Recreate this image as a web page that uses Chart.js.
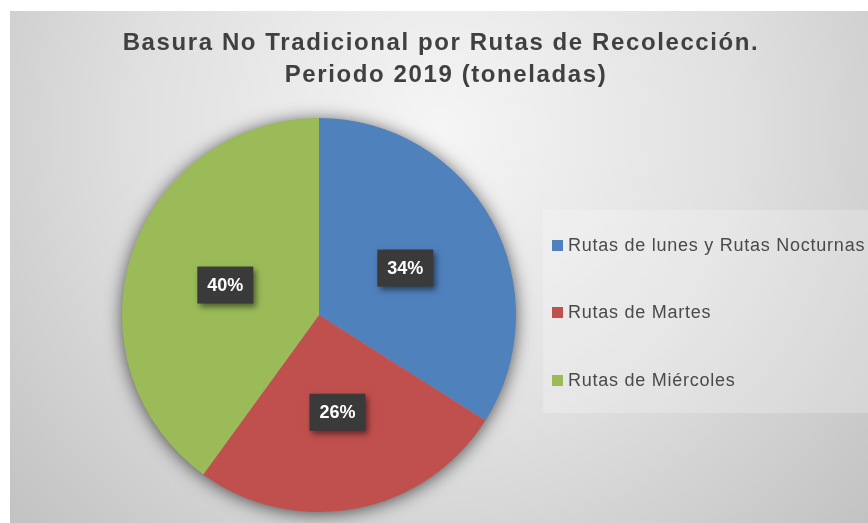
<!DOCTYPE html>
<html>
<head>
<meta charset="utf-8">
<script src="https://cdn.jsdelivr.net/npm/chart.js@4"></script>
<style>
  html, body { margin: 0; padding: 0; background: #fff; }
  canvas { display: block; }
</style>
</head>
<body>
<canvas id="chart" width="868" height="523"></canvas>
<script>
const titleLines = ['Basura No Tradicional por Rutas de Recolección.', 'Periodo 2019 (toneladas)']
const labels = ['Rutas de lunes y Rutas Nocturnas', 'Rutas de Martes', 'Rutas de Miércoles']
const values = [34, 26, 40]
const colors = ['#4F81BD', '#C0504D', '#9BBB59']

// fondo con degradado radial, como el de Excel
const background = {
  id: 'background',
  beforeDraw(chart) {
    const c = chart.ctx
    c.save()
    c.fillStyle = '#ffffff'
    c.fillRect(0, 0, chart.width, chart.height)
    const g = c.createRadialGradient(440, 130, 0, 440, 130, 600)
    g.addColorStop(0, '#f5f5f5')
    g.addColorStop(0.5, '#e0e0e0')
    g.addColorStop(1, '#c0c0c0')
    c.fillStyle = g
    c.fillRect(10, 11, chart.width - 10, chart.height - 11)
    c.restore()
  },
}

const pieShadow = {
  id: 'pieShadow',
  beforeDatasetsDraw(chart) {
    const arc = chart.getDatasetMeta(0).data[0]
    const c = chart.ctx
    c.save()
    c.shadowColor = 'rgba(0,0,0,0.7)'
    c.shadowBlur = 18
    c.shadowOffsetY = 2
    c.fillStyle = '#999'
    c.beginPath()
    c.arc(arc.x, arc.y, arc.outerRadius - 1, 0, Math.PI * 2)
    c.fill()
    c.restore()
  },
}

const pctLabels = {
  id: 'pctLabels',
  afterDatasetsDraw(chart) {
    const c = chart.ctx
    const total = values.reduce((a, b) => a + b, 0)
    chart.getDatasetMeta(0).data.forEach((arc, i) => {
      const mid = (arc.startAngle + arc.endAngle) / 2
      const r = arc.outerRadius * 0.5
      const x = arc.x + Math.cos(mid) * r
      const y = arc.y + Math.sin(mid) * r
      const txt = Math.round((values[i] / total) * 100) + '%'
      c.save()
      c.shadowColor = 'rgba(0,0,0,0.5)'
      c.shadowBlur = 6
      c.shadowOffsetX = 3
      c.shadowOffsetY = 3
      c.fillStyle = '#3a3a3a'
      c.fillRect(x - 28, y - 18, 56, 37)
      c.restore()
      c.save()
      c.fillStyle = '#ffffff'
      c.font = 'bold 18px "Liberation Sans", Arial, sans-serif'
      c.textAlign = 'center'
      c.textBaseline = 'middle'
      c.fillText(txt, x, y + 1)
      c.restore()
    })
  },
}

const titleAndLegend = {
  id: 'titleAndLegend',
  afterDraw(chart) {
    const c = chart.ctx
    c.save()
    c.fillStyle = '#404040'
    c.font = 'bold 24px "Liberation Sans", Arial, sans-serif'
    c.letterSpacing = '1.6px'
    c.textAlign = 'center'
    c.textBaseline = 'alphabetic'
    c.fillText(titleLines[0], 441, 50)
    c.fillText(titleLines[1], 446, 82)

    c.letterSpacing = '0px'
    c.fillStyle = 'rgba(255,255,255,0.22)'
    c.fillRect(543, 210, 325, 203)

    const ys = [245, 312, 380]
    c.font = '18px "Liberation Sans", Arial, sans-serif'
    c.letterSpacing = '0.75px'
    c.textAlign = 'left'
    c.textBaseline = 'middle'
    labels.forEach((lab, i) => {
      c.fillStyle = colors[i]
      c.fillRect(552, ys[i] - 5, 11, 11)
      c.fillStyle = '#4a4a4a'
      c.fillText(lab, 568, ys[i] + 1)
    })
    c.restore()
  },
}

new Chart(document.getElementById('chart'), {
  type: 'pie',
  data: {
    labels: labels,
    datasets: [
      {
        data: values,
        backgroundColor: colors,
        borderWidth: 0,
        hoverOffset: 0,
      },
    ],
  },
  options: {
    responsive: false,
    animation: false,
    devicePixelRatio: 1,
    layout: { padding: { left: 122, right: 352, top: 118, bottom: 11 } },
    plugins: {
      legend: { display: false },
      title: { display: false },
      tooltip: { enabled: false },
    },
  },
  plugins: [background, pieShadow, pctLabels, titleAndLegend],
})
</script>
</body>
</html>
